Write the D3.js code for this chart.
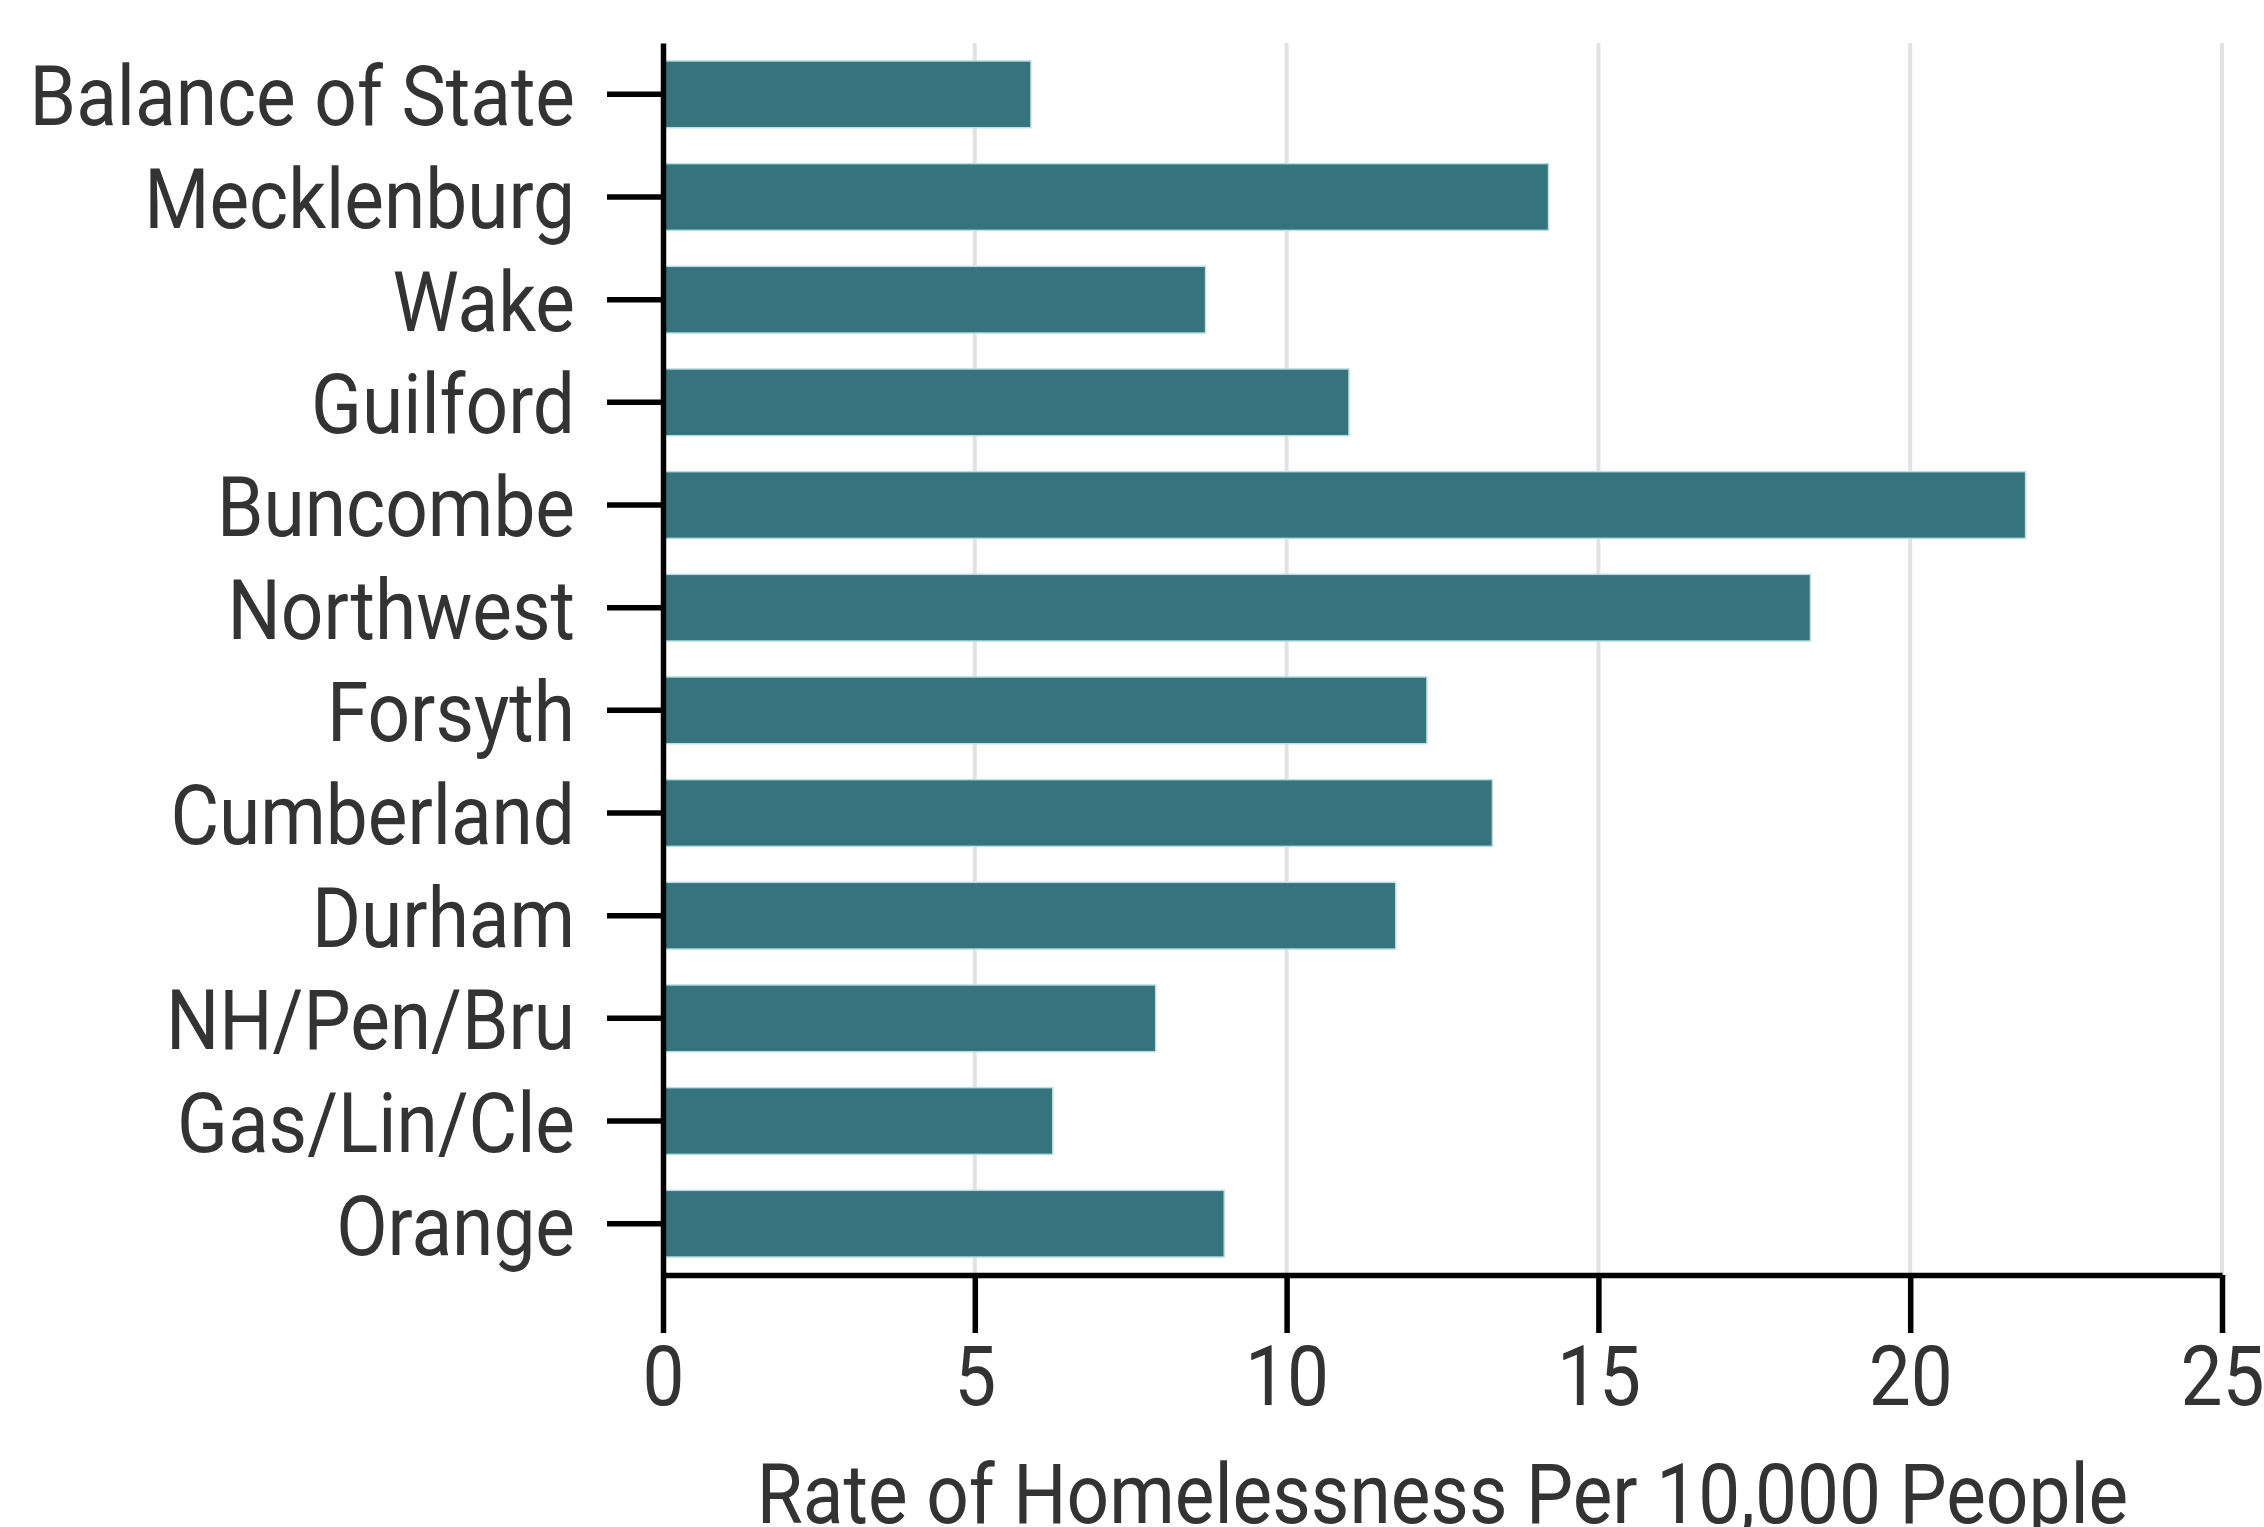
<!DOCTYPE html>
<html>
<head>
<meta charset="utf-8">
<script src="https://cdn.jsdelivr.net/npm/d3@7"></script>
<style>
  body { margin: 0; background: #fff; }
  text { font-family: Roboto, sans-serif; fill: #333; }
</style>
</head>
<body>
<svg id="chart" width="2264" height="1527"></svg>
<script>
// regions (top to bottom) and their rates per 10,000 people
let regions = ["Balance of State", "Mecklenburg", "Wake", "Guilford", "Buncombe", "Northwest",
    "Forsyth", "Cumberland", "Durham", "NH/Pen/Bru", "Gas/Lin/Cle", "Orange"];
let rates = [5.9, 14.2, 8.7, 11.0, 21.85, 18.4, 12.25, 13.3, 11.75, 7.9, 6.25, 9.0];
let xTicks = [0, 5, 10, 15, 20, 25];
let xTitle = "Rate of Homelessness Per 10,000 People";

const SQUEEZE = 0.89; // narrow look of the original font

let svg = d3.select("#chart");
let margin = {left: 663, right: 42, top: 43, bottom: 252};
let width = 2264 - margin.left - margin.right;
let height = 1527 - margin.top - margin.bottom;

let g = svg.append("g").attr("transform", `translate(${margin.left},${margin.top})`);

let x = d3.scaleLinear().domain([0, 25]).range([0, width]);
let y = d3.scaleBand().domain(regions).range([0, height]).paddingInner(0.35).paddingOuter(0.175);

// gridlines
g.append("g")
    .selectAll("line")
    .data(xTicks.filter(d => d > 0))
    .join("line")
    .attr("x1", d => x(d))
    .attr("x2", d => x(d))
    .attr("y1", 0)
    .attr("y2", height)
    .attr("stroke", "#e2e2e2")
    .attr("stroke-width", 4);

// bars
g.append("g")
    .selectAll("rect")
    .data(regions)
    .join("rect")
    .attr("x", x(0))
    .attr("y", d => y(d))
    .attr("height", y.bandwidth())
    .attr("width", (d, i) => x(rates[i]) - x(0))
    .attr("fill", "#35737d")
    .attr("stroke", "#b6e0e6")
    .attr("stroke-width", 1.5);

function squeezeText(sel) {
    sel.selectAll("text").each(function() {
        let t = d3.select(this);
        let tx = +t.attr("x") || 0;
        t.attr("x", tx / SQUEEZE).attr("transform", `scale(${SQUEEZE},1)`);
    });
}

// y axis
let yAxis = g.append("g")
    .call(d3.axisLeft(y).tickSize(56).tickSizeOuter(0).tickPadding(32));
yAxis.select(".domain").attr("stroke", "#000").attr("stroke-width", 5.5);
yAxis.selectAll(".tick line").attr("stroke", "#000").attr("stroke-width", 5.5);
yAxis.selectAll("text").attr("font-size", 84).attr("dy", "0.37em").attr("fill", "#333");
squeezeText(yAxis);

// x axis
let xAxis = g.append("g")
    .attr("transform", `translate(0,${height})`)
    .call(d3.axisBottom(x).tickValues(xTicks).tickSize(58).tickSizeOuter(0).tickPadding(12));
xAxis.select(".domain").attr("stroke", "#000").attr("stroke-width", 5.5);
xAxis.selectAll(".tick line").attr("stroke", "#000").attr("stroke-width", 5.5);
xAxis.selectAll("text").attr("font-size", 84).attr("fill", "#333");
squeezeText(xAxis);

// axis title (its descenders run off the bottom edge, as in the original)
let cx = width / 2;
g.append("text")
    .attr("x", cx / SQUEEZE)
    .attr("y", height + 248)
    .attr("transform", `scale(${SQUEEZE},1)`)
    .attr("text-anchor", "middle")
    .attr("font-size", 84)
    .text(xTitle);
</script>
</body>
</html>
